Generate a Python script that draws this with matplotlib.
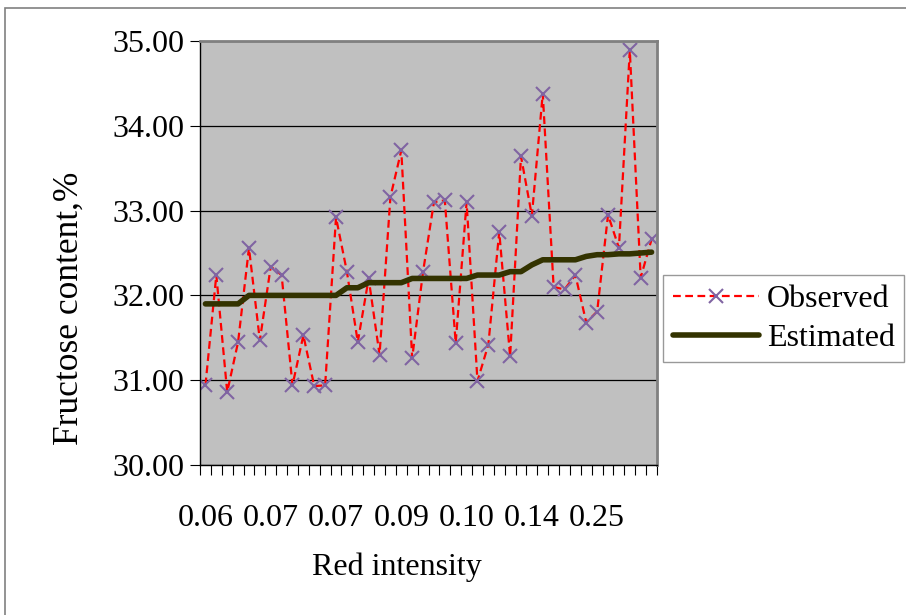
import matplotlib
matplotlib.use("Agg")
import matplotlib.pyplot as plt
from matplotlib.patches import Rectangle

# red intensity labels shown on the category axis (every 6th sample)
tick_labels = ["0.06", "0.07", "0.07", "0.09", "0.10", "0.14", "0.25"]

observed = [30.94, 32.24, 30.86, 31.45, 32.56, 31.47, 32.34, 32.24, 30.94, 31.53,
            30.93, 30.94, 32.92, 32.28, 31.45, 32.20, 31.30, 33.16, 33.71, 31.26,
            32.28, 33.10, 33.12, 31.44, 33.10, 30.99, 31.42, 32.75, 31.28, 33.64,
            32.94, 34.38, 32.10, 32.07, 32.24, 31.68, 31.81, 32.95, 32.56, 34.89,
            32.21, 32.66]

estimated = [31.90, 31.90, 31.90, 31.90, 32.00, 32.00, 32.00, 32.00, 32.00, 32.00,
             32.00, 32.00, 32.00, 32.09, 32.09, 32.15, 32.15, 32.15, 32.15, 32.20,
             32.20, 32.20, 32.20, 32.20, 32.20, 32.24, 32.24, 32.24, 32.28, 32.28,
             32.36, 32.42, 32.42, 32.42, 32.42, 32.46, 32.48, 32.48, 32.49, 32.49,
             32.50, 32.51]

plt.rcParams["font.family"] = ["Liberation Serif", "DejaVu Serif"]
fs = 23

fig = plt.figure(figsize=(9.06, 6.15), dpi=100)
W, H = 906, 615
ax = fig.add_axes([200 / W, 1 - 465 / H, 457 / W, 424 / H])

# outer chart border (runs off the right and bottom edges)
fig.patches.append(Rectangle((5 / W, -0.1), 1.2, 1.1 - 8 / H, transform=fig.transFigure,
                             fill=False, edgecolor="#808080", lw=1.2))

x = list(range(len(observed)))
ax.set_facecolor("#C0C0C0")
ax.plot(x, observed, color="#FF0000", ls=(0, (3.5, 2)), lw=1.6, marker="x",
        markersize=10, markeredgecolor="#8064A2", markeredgewidth=1.5, label="Observed")
ax.plot(x, estimated, color="#333300", lw=4, label="Estimated", solid_capstyle="round")

ax.set_xlim(-0.5, len(observed) - 0.5)
ax.set_ylim(30, 35)
ax.set_yticks([30, 31, 32, 33, 34, 35])
ax.set_yticklabels([f"{v:.2f}" for v in [30, 31, 32, 33, 34, 35]], fontsize=fs)
ax.yaxis.grid(True, color="#000000", lw=0.9)
ax.set_axisbelow(True)

ax.set_xticks(range(0, len(observed), 6))
ax.set_xticklabels(tick_labels, fontsize=fs)
ax.set_xticks([i - 0.5 for i in range(len(observed) + 1)], minor=True)
ax.tick_params(axis="x", which="major", length=0, pad=28)
ax.tick_params(axis="x", which="minor", length=7, width=0.8, direction="out")
ax.tick_params(axis="y", length=7, width=0.8, direction="out", pad=4)

for s in ["top", "right"]:
    ax.spines[s].set_color("#808080")
    ax.spines[s].set_linewidth(2)
for s in ["left", "bottom"]:
    ax.spines[s].set_color("#000000")
    ax.spines[s].set_linewidth(1.0)

ax.set_xlabel("Red intensity", fontsize=fs)
ax.xaxis.set_label_coords(0.431, -0.207)
ax.set_ylabel("Fructose content,%", fontsize=25.5)
ax.yaxis.set_label_coords(-0.251, 0.37)

leg = fig.legend(loc="upper left", bbox_to_anchor=(663 / W, 1 - 275 / H), fontsize=fs,
                 frameon=True, fancybox=False, edgecolor="#808080", handlelength=2.7,
                 borderaxespad=0, borderpad=0.3, labelspacing=0.3, handletextpad=0.25)
leg.get_frame().set_linewidth(1.0)

fig.savefig("out.png", dpi=100)
